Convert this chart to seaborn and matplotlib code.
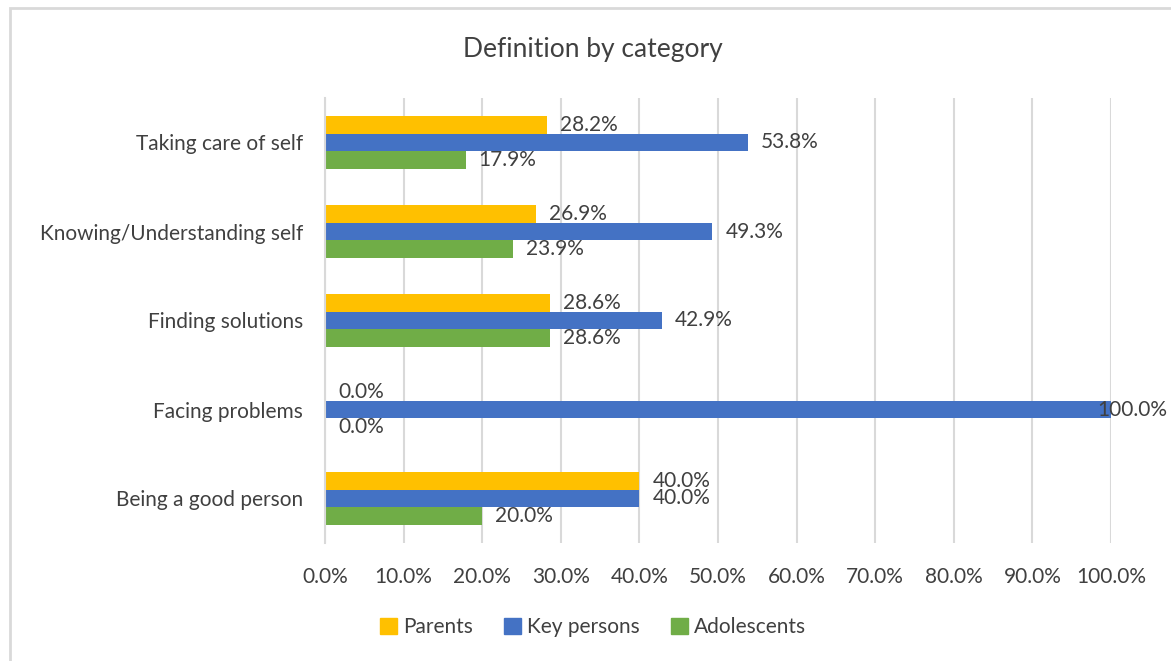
import matplotlib
matplotlib.use("Agg")
import matplotlib.pyplot as plt
import seaborn as sns
import pandas as pd
from matplotlib.patches import Rectangle
from matplotlib.ticker import FuncFormatter, MultipleLocator

categories = ["Taking care of self", "Knowing/Understanding self", "Finding solutions",
              "Facing problems", "Being a good person"]
series = ["Parents", "Key persons", "Adolescents"]
parents = [28.2, 26.9, 28.6, 0.0, 40.0]
key_persons = [53.8, 49.3, 42.9, 100.0, 40.0]
adolescents = [17.9, 23.9, 28.6, 0.0, 20.0]
colors = ["#FFC000", "#4472C4", "#70AD47"]

rows = []
for name, vals in zip(series, [parents, key_persons, adolescents]):
    for c, v in zip(categories, vals):
        rows.append({"Category": c, "Series": name, "Value": v})
df = pd.DataFrame(rows)

sns.set_theme(style="white")
FONT = ["Lato", "DejaVu Sans"]
plt.rcParams["font.family"] = FONT
TXT = "#404040"
FS = 15

fig = plt.figure(figsize=(11.71, 6.61), dpi=100)
ax = fig.add_axes([325 / 1171, (661 - 543) / 661, (1111 - 325) / 1171, (543 - 98) / 661])

sns.barplot(data=df, y="Category", x="Value", hue="Series", order=categories,
            hue_order=series, palette=colors, orient="h", width=0.6,
            saturation=1, edgecolor="none", linewidth=0, ax=ax, legend=True)

ax.set_xlim(0, 100)
ax.set_ylim(4.5, -0.5)
ax.xaxis.set_major_locator(MultipleLocator(10))
ax.xaxis.set_major_formatter(FuncFormatter(lambda v, p: f"{v:.1f}%"))
ax.grid(axis="x", color="#D9D9D9", linewidth=1.5)
ax.grid(axis="y", visible=False)
ax.set_axisbelow(True)
for s in ["top", "right", "bottom"]:
    ax.spines[s].set_visible(False)
ax.spines["left"].set_color("#D9D9D9")
ax.spines["left"].set_linewidth(1.5)
ax.set_xlabel("")
ax.set_ylabel("")
ax.tick_params(axis="both", length=0, labelsize=FS, colors=TXT)
ax.tick_params(axis="x", pad=17)
ax.tick_params(axis="y", pad=16)

for cont in ax.containers:
    for bar in cont:
        v = bar.get_width()
        yc = bar.get_y() + bar.get_height() / 2
        off = 13 if v < 99 else -14
        ax.annotate(f"{v:.1f}%", xy=(v, yc), xytext=(off, 0), textcoords="offset pixels",
                    ha="left", va="center", fontsize=FS, color=TXT, annotation_clip=False)

ax.legend_.remove()
handles = [Rectangle((0, 0), 1, 1, color=c) for c in colors]
fig.legend(handles, series, loc="center", bbox_to_anchor=(593 / 1171, 1 - 627 / 661),
           ncol=3, frameon=False, fontsize=FS, handlelength=0.8, handleheight=0.8,
           handletextpad=0.3, columnspacing=1.5, labelcolor=TXT)

fig.text(593 / 1171, 1 - 50 / 661, "Definition by category", ha="center", va="center",
         fontsize=19, color=TXT)

fig.patches.append(Rectangle((10 / 1171, -0.1), 1.2, 1 - 8 / 661 + 0.1, transform=fig.transFigure,
                             fill=False, edgecolor="#D9D9D9", linewidth=2))

fig.savefig("out.png", dpi=100)
